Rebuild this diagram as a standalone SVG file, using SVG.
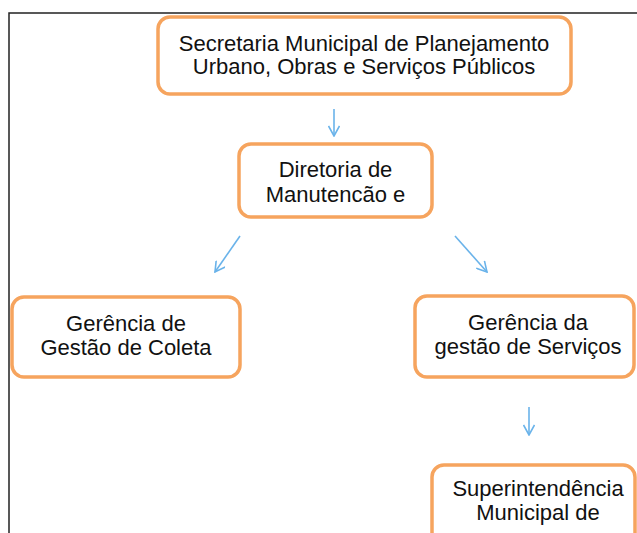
<svg xmlns="http://www.w3.org/2000/svg" width="637" height="533" viewBox="0 0 637 533">
<style>
.box{fill:#fff;stroke:#F6A45E;stroke-width:3.5}
.t{font-family:"Liberation Sans",Arial,sans-serif;font-size:22px;fill:#111;text-anchor:middle}
.c{stroke:#6AB3EA;stroke-width:1.6;fill:none}
.frame{stroke:#222;stroke-width:1.5;fill:none}
</style>
<defs>
<marker id="ah" viewBox="0 0 12 12" refX="11" refY="6" markerWidth="12" markerHeight="12" markerUnits="userSpaceOnUse" orient="auto">
<polyline points="1,0.5 11,6 1,11.5" fill="none" stroke="#6AB3EA" stroke-width="1.6"/>
</marker>
</defs>
<rect width="637" height="533" fill="#fff"/>
<path class="frame" d="M9,533 V13 H637"/>
<g id="n1">
<rect class="box" x="158" y="17" width="413" height="77" rx="12"/>
<text class="t" x="364" y="51">Secretaria Municipal de Planejamento</text>
<text class="t" x="364" y="74">Urbano, Obras e Serviços Públicos</text>
</g>
<g id="n2">
<rect class="box" x="239" y="144" width="193" height="73" rx="12"/>
<text class="t" x="335.5" y="177">Diretoria de</text>
<text class="t" x="335.5" y="202">Manutencão e</text>
</g>
<g id="n3">
<rect class="box" x="12" y="297" width="228" height="80" rx="12"/>
<text class="t" x="126" y="331">Gerência de</text>
<text class="t" x="126" y="355">Gestão de Coleta</text>
</g>
<g id="n4">
<rect class="box" x="415" y="296" width="219" height="81" rx="12"/>
<text class="t" x="528" y="330">Gerência da</text>
<text class="t" x="528" y="354">gestão de Serviços</text>
</g>
<g id="n5">
<rect class="box" x="432" y="465" width="203" height="90" rx="12"/>
<text class="t" x="538" y="496">Superintendência</text>
<text class="t" x="538" y="520">Municipal de</text>
</g>
<g id="connectors">
<line class="c" x1="334" y1="109" x2="334" y2="136" marker-end="url(#ah)"/>
<line class="c" x1="240" y1="236" x2="215" y2="272" marker-end="url(#ah)"/>
<line class="c" x1="455" y1="236" x2="487" y2="272" marker-end="url(#ah)"/>
<line class="c" x1="529" y1="407" x2="529" y2="435" marker-end="url(#ah)"/>
</g>
</svg>
